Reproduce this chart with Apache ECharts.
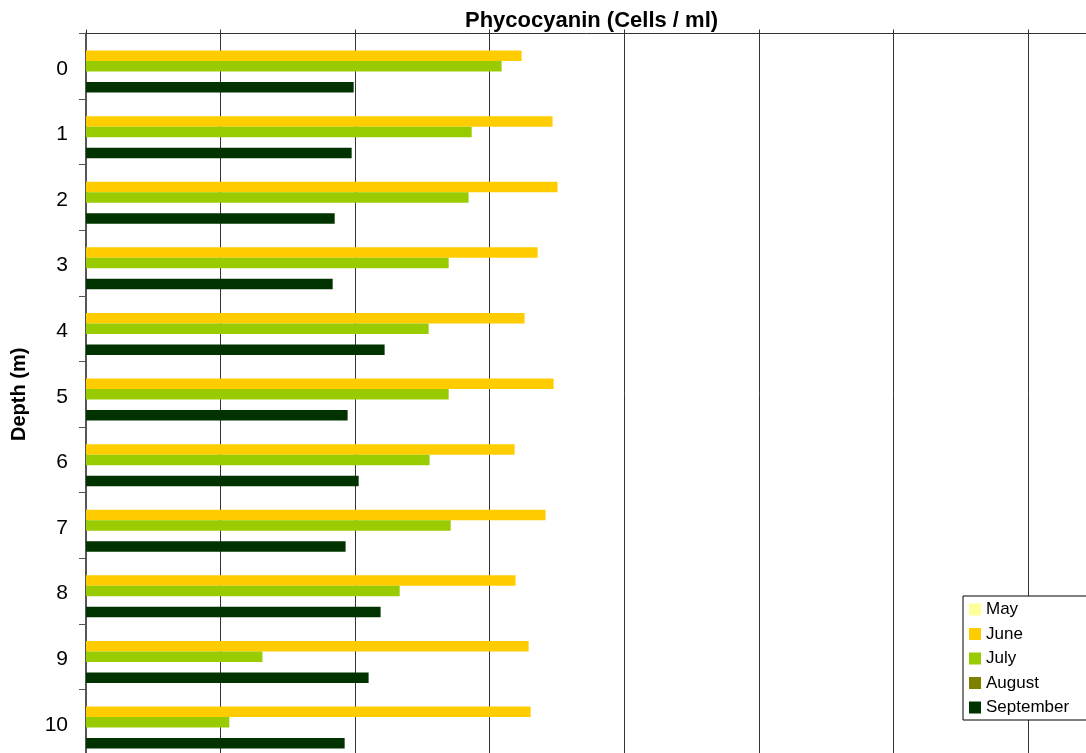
<!DOCTYPE html>
<html>
<head>
<meta charset="utf-8">
<title>Phycocyanin (Cells / ml)</title>
<script src="https://cdn.jsdelivr.net/npm/echarts@6/dist/echarts.min.js"></script>
<style>
  html, body { margin: 0; padding: 0; background: #ffffff; }
  #chart { width: 1086px; height: 753px; }
</style>
</head>
<body>
<div id="chart"></div>
<script>
// Depth categories (m)
const depths = ['0', '1', '2', '3', '4', '5', '6', '7', '8', '9', '10'];

// Phycocyanin counts (cells / ml) per sampling month; null = no sample
const may = [null, null, null, null, null, null, null, null, null, null, null];
const june = [32370, 34670, 35040, 33560, 32590, 34750, 31850, 34150, 31920, 32890, 33040];
const july = [30880, 28660, 28430, 26950, 25460, 26950, 25530, 27100, 23310, 13110, 10650];
const august = [null, null, null, null, null, null, null, null, null, null, null];
const september = [19890, 19740, 18480, 18330, 22190, 19440, 20260, 19290, 21890, 21000, 19220];

const months = ['May', 'June', 'July', 'August', 'September'];
const monthValues = [may, june, july, august, september];
const monthColors = ['#FFFF99', '#FFCC00', '#99CC00', '#808000', '#003300'];

const font = '"Liberation Sans", Arial, sans-serif';

const chart = echarts.init(document.getElementById('chart'), null, { renderer: 'canvas' });

chart.setOption({
  animation: false,
  backgroundColor: '#ffffff',
  title: {
    text: 'Phycocyanin (Cells / ml)',
    left: 460,
    top: 5,
    textStyle: { fontFamily: font, fontSize: 22, fontWeight: 'bold', color: '#000000' }
  },
  legend: {
    orient: 'vertical',
    left: 963,
    top: 596,
    padding: [5, 40, 4, 6],
    itemWidth: 12,
    itemHeight: 12,
    itemGap: 7.5,
    icon: 'rect',
    backgroundColor: '#ffffff',
    borderColor: '#000000',
    borderWidth: 1,
    borderRadius: 0,
    data: months,
    textStyle: { fontFamily: font, fontSize: 17, color: '#000000', lineHeight: 17 }
  },
  grid: {
    left: 86,
    top: 33.5,
    width: 1076.6,
    height: 721.6,
    containLabel: false,
    outerBoundsMode: 'none'
  },
  xAxis: {
    type: 'value',
    position: 'top',
    min: 0,
    max: 80000,
    interval: 10000,
    axisLabel: { show: false },
    axisLine: { show: true, lineStyle: { color: '#333333', width: 1 } },
    axisTick: { show: true, inside: false, length: 4, lineStyle: { color: '#333333' } },
    splitLine: { show: true, lineStyle: { color: '#333333', width: 1 } }
  },
  yAxis: {
    type: 'category',
    data: depths,
    inverse: true,
    name: 'Depth (m)',
    nameLocation: 'middle',
    nameRotate: 90,
    nameGap: 57,
    nameTextStyle: { fontFamily: font, fontSize: 20, fontWeight: 'bold', color: '#000000' },
    axisLine: { show: true, lineStyle: { color: '#555555', width: 2 } },
    axisTick: { show: true, inside: false, length: 7, lineStyle: { color: '#555555' } },
    axisLabel: {
      margin: 18,
      formatter: (v) => '{d|' + v + '}',
      rich: {
        d: { fontFamily: font, fontSize: 21, color: '#000000', padding: [5, 0, 0, 0] }
      }
    },
    splitLine: { show: false }
  },
  series: months.map((m, i) => ({
    name: m,
    type: 'bar',
    data: monthValues[i],
    barGap: '0%',
    barCategoryGap: '20%',
    itemStyle: { color: monthColors[i] }
  }))
});
</script>
</body>
</html>
